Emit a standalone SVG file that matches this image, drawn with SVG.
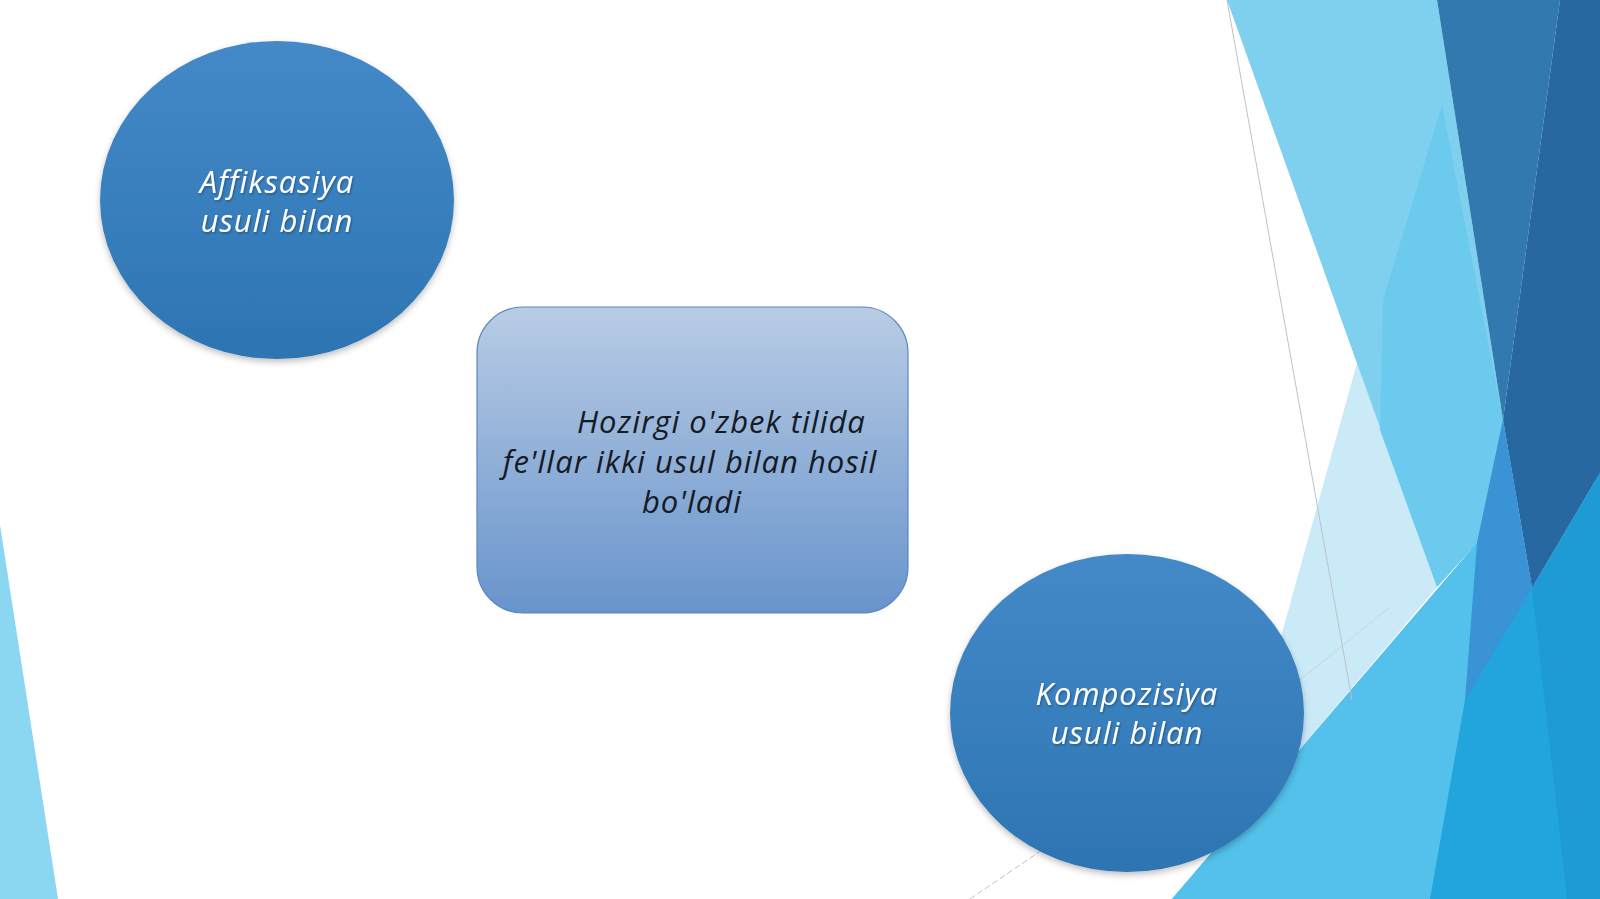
<svg xmlns="http://www.w3.org/2000/svg" width="1600" height="899" viewBox="0 0 1600 899">
<style>
.ctext{font-family:"Open Sans","Noto Sans","Liberation Sans",sans-serif;font-style:italic;font-size:31px;letter-spacing:1px;fill:#ffffff;text-anchor:middle}
.rtext{font-family:"Open Sans","Noto Sans","Liberation Sans",sans-serif;font-style:italic;font-size:31px;letter-spacing:1px;fill:#151a24}
.faint{stroke:#b9c3cc;stroke-width:1;fill:none}
</style>
<defs>
<linearGradient id="gCircle" x1="0" y1="0" x2="0" y2="1">
<stop offset="0" stop-color="#4489c8"/>
<stop offset="1" stop-color="#2d75b2"/>
</linearGradient>
<linearGradient id="gRect" x1="0" y1="0" x2="0" y2="1">
<stop offset="0" stop-color="#b9cce4"/>
<stop offset="1" stop-color="#6894cc"/>
</linearGradient>
<filter id="shadow" x="-10%" y="-10%" width="120%" height="125%">
<feDropShadow dx="0" dy="3" stdDeviation="3" flood-color="#000" flood-opacity="0.25"/>
</filter>
<filter id="tshadow" x="-10%" y="-20%" width="120%" height="150%">
<feDropShadow dx="1" dy="1.5" stdDeviation="1" flood-color="#000" flood-opacity="0.3"/>
</filter>
</defs>
<rect width="1600" height="899" fill="#ffffff"/>
<g id="background">
<polygon points="0,525 58,899 0,899" fill="#8bd6f1"/>
<polygon points="1357,363 1225,838 1437,587" fill="#cbeaf8"/>
<polygon points="1227,0 1437,0 1503,420 1477,543 1437,587" fill="#7fd0ef"/>
<polygon points="1442,105 1503,420 1477,543 1437,587 1380,430 1383,300" fill="#6ccaef"/>
<polygon points="1437,0 1560,0 1503,420" fill="#3179ae"/>
<polygon points="1560,0 1600,0 1600,473 1532,588 1503,420" fill="#2868a0"/>
<polygon points="1172,899 1477,543 1503,420 1532,588 1600,473 1600,899" fill="#22a5dd"/>
<polygon points="1503,420 1532,588 1465,700 1477,543" fill="#3a93d4"/>
<polygon points="1172,899 1477,543 1465,700 1430,899" fill="#53c1eb"/>
<polygon points="1532,588 1600,473 1600,899 1567,899" fill="#1e9bd4"/>
<line class="faint" x1="1227" y1="0" x2="1352" y2="700"/>
<line class="faint" x1="1300" y1="680" x2="1390" y2="607" stroke-opacity="0.5"/>
<line class="faint" x1="970" y1="899" x2="1045" y2="848" stroke-dasharray="6 3"/>
</g>
<g id="connectors"></g>
<g id="node-affiksasiya">
<ellipse cx="277" cy="200" rx="177" ry="159" fill="url(#gCircle)" filter="url(#shadow)"/>
<text class="ctext" x="277" y="193" filter="url(#tshadow)">Affiksasiya</text>
<text class="ctext" x="277" y="232" filter="url(#tshadow)">usuli bilan</text>
</g>
<g id="node-center">
<rect x="477" y="307" width="431" height="306" rx="46" ry="46" fill="url(#gRect)" stroke="#5a86c2" stroke-width="1.2"/>
<text class="rtext" x="577" y="433">Hozirgi o'zbek tilida</text>
<text class="rtext" x="690" y="473" text-anchor="middle">fe'llar ikki usul bilan hosil</text>
<text class="rtext" x="692" y="513" text-anchor="middle">bo'ladi</text>
</g>
<g id="node-kompozisiya">
<ellipse cx="1127" cy="713" rx="177" ry="159" fill="url(#gCircle)" filter="url(#shadow)"/>
<text class="ctext" x="1127" y="705" filter="url(#tshadow)">Kompozisiya</text>
<text class="ctext" x="1127" y="744" filter="url(#tshadow)">usuli bilan</text>
</g>
</svg>
